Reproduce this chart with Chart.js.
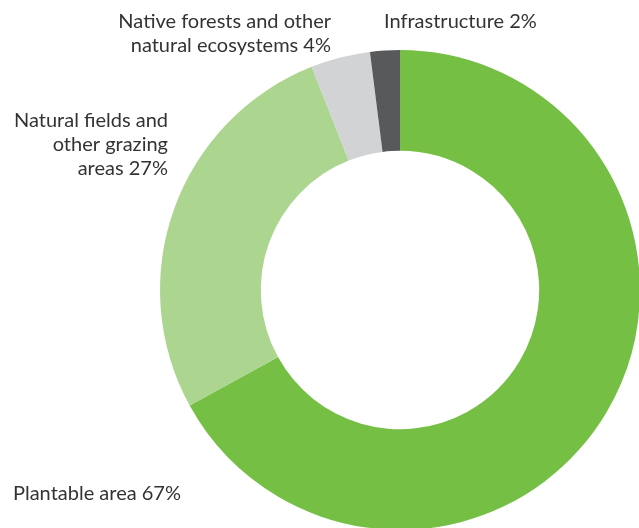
<!DOCTYPE html>
<html>
<head>
<meta charset="utf-8">
<script src="https://cdn.jsdelivr.net/npm/chart.js@4"></script>
<style>
  html, body { margin: 0; padding: 0; background: #fff; overflow: hidden; }
  #wrap { position: absolute; left: 0; top: 0; width: 642px; height: 532px; }
</style>
</head>
<body>
<div id="wrap"><canvas id="landUse"></canvas></div>
<script>
// land use shares, clockwise from the top
const categories = ['Plantable area', 'Natural fields and other grazing areas', 'Native forests and other natural ecosystems', 'Infrastructure'];
const shares = [67, 27, 4, 2];
const colors = ['#75bf44', '#acd58f', '#d1d3d4', '#58595b'];

// label text, one entry per line
const labelLines = [
  ['Plantable area 67%'],
  ['Natural fields and', 'other grazing', 'areas 27%'],
  ['Native forests and other', 'natural ecosystems 4%'],
  ['Infrastructure 2%']
];
// where each label block sits: x, y of first line, alignment
const labelSpots = [
  { x: 13, y: 494, align: 'left' },
  { x: 168, y: 121, align: 'right' },
  { x: 331, y: 22, align: 'right' },
  { x: 384, y: 22, align: 'left' }
];

const outsideLabels = {
  id: 'outsideLabels',
  afterDraw(chart) {
    const ctx = chart.ctx;
    ctx.save();
    ctx.font = '20px Lato';
    ctx.fillStyle = '#333333';
    ctx.textBaseline = 'middle';
    labelLines.forEach((lines, i) => {
      const spot = labelSpots[i];
      ctx.textAlign = spot.align;
      lines.forEach((line, j) => {
        ctx.fillText(line, spot.x, spot.y + j * 24);
      });
    });
    ctx.restore();
  }
};

new Chart(document.getElementById('landUse'), {
  type: 'doughnut',
  data: {
    labels: categories,
    datasets: [{
      data: shares,
      backgroundColor: colors,
      borderWidth: 0
    }]
  },
  options: {
    responsive: true,
    maintainAspectRatio: false,
    animation: false,
    cutout: '58%',
    layout: {
      padding: { left: 160, top: 50, right: 2, bottom: 2 }
    },
    plugins: {
      legend: { display: false },
      tooltip: { enabled: false }
    }
  },
  plugins: [outsideLabels]
});
</script>
</body>
</html>
